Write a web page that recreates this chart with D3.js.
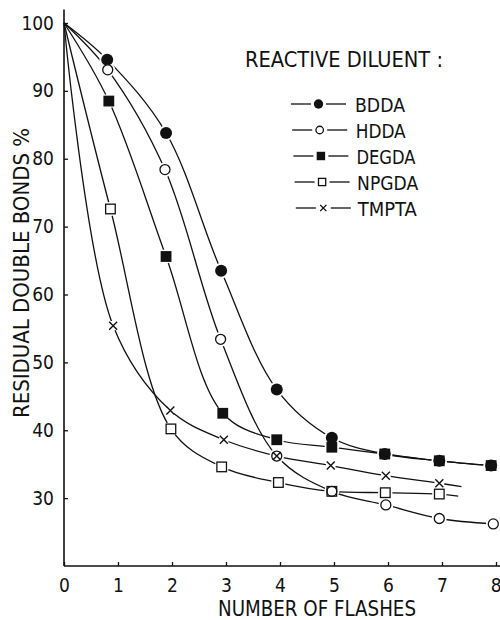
<!DOCTYPE html>
<html>
<head>
<meta charset="utf-8">
<script src="https://cdn.jsdelivr.net/npm/d3@7"></script>
<style>
  html, body { margin: 0; padding: 0; background: #fff; }
  svg { display: block; }
  text { font-family: "Liberation Sans Narrow", "DejaVu Sans Condensed", "Roboto Condensed", "Liberation Sans", sans-serif; fill: #111; }
</style>
</head>
<body>
<svg id="chart" width="500" height="620"></svg>
<script>
// ---------- data ----------
const seriesNames = ["BDDA", "HDDA", "DEGDA", "NPGDA", "TMPTA"];
const markerKinds = ["filledCircle", "openCircle", "filledSquare", "openSquare", "cross"];

// number of flashes (x) and residual double bonds % (y); first point is the common origin
const xBDDA  = [0, 0.80, 1.89, 2.91, 3.94, 4.96, 5.94, 6.95, 7.91];
const yBDDA  = [100, 94.6, 83.8, 63.5, 46.0, 38.9, 36.5, 35.5, 34.8];
const xHDDA  = [0, 0.81, 1.87, 2.90, 3.94, 4.96, 5.96, 6.95, 7.95];
const yHDDA  = [100, 93.1, 78.4, 53.4, 36.2, 31.0, 29.0, 27.0, 26.2];
const xDEGDA = [0, 0.83, 1.89, 2.94, 3.94, 4.96, 5.94, 6.95, 7.91];
const yDEGDA = [100, 88.5, 65.6, 42.5, 38.6, 37.5, 36.5, 35.5, 34.8];
const xNPGDA = [0, 0.86, 1.98, 2.92, 3.97, 4.96, 5.95, 6.95];
const yNPGDA = [100, 72.6, 40.2, 34.6, 32.3, 31.0, 30.8, 30.6];
const xTMPTA = [0, 0.91, 1.97, 2.96, 3.94, 4.94, 5.96, 6.95];
const yTMPTA = [100, 55.4, 42.9, 38.6, 36.2, 34.8, 33.3, 32.2];
// where the drawn curve stops beyond the last symbol (null = stops at last symbol)
const lineEndX = [null, null, null, 7.30, 7.36];
const lineEndY = [null, null, null, 30.3, 31.7];

const xTickValues = [0, 1, 2, 3, 4, 5, 6, 7, 8];
const yTickValues = [30, 40, 50, 60, 70, 80, 90, 100];

const xTitle = "NUMBER OF FLASHES";
const yTitle = "RESIDUAL  DOUBLE  BONDS  %";
const legendTitle = "REACTIVE  DILUENT :";

// ---------- build ----------
const xs = [xBDDA, xHDDA, xDEGDA, xNPGDA, xTMPTA];
const ys = [yBDDA, yHDDA, yDEGDA, yNPGDA, yTMPTA];
const series = seriesNames.map((name, i) => {
  const pts = xs[i].map((v, j) => ({ x: v, y: ys[i][j], marker: j > 0 }));
  if (lineEndX[i] !== null) pts.push({ x: lineEndX[i], y: lineEndY[i], marker: false });
  return { name, kind: markerKinds[i], pts };
});

const svg = d3.select("#chart");
const x = d3.scaleLinear().domain([0, 8]).range([64, 496]);
const y = d3.scaleLinear().domain([20, 100]).range([566, 23]);
const ink = "#111";

// axes
const gx = svg.append("g").attr("transform", `translate(0,${y(20)})`)
  .call(d3.axisBottom(x).tickValues(xTickValues).tickFormat(d3.format("d"))
    .tickSizeInner(-4).tickSizeOuter(0).tickPadding(13));
gx.select(".domain").remove();
gx.selectAll(".tick line").attr("stroke", ink).attr("stroke-width", 1.3);
gx.selectAll(".tick text").attr("font-size", 19).attr("fill", ink);
// keep the last label inside the picture
gx.selectAll(".tick text").filter(d => d === 8).attr("text-anchor", "end").attr("dx", 5);

const gy = svg.append("g").attr("transform", `translate(${x(0)},0)`)
  .call(d3.axisLeft(y).tickValues(yTickValues).tickFormat(d3.format("d"))
    .tickSizeInner(-4).tickSizeOuter(0).tickPadding(10));
gy.select(".domain").remove();
gy.selectAll(".tick line").attr("stroke", ink).attr("stroke-width", 1.3);
gy.selectAll(".tick text").attr("font-size", 19).attr("fill", ink);

svg.append("line").attr("x1", x(0)).attr("x2", x(0)).attr("y1", y(20)).attr("y2", y(102))
  .attr("stroke", ink).attr("stroke-width", 1.6);
svg.append("line").attr("x1", x(0)).attr("x2", x(8.08)).attr("y1", y(20)).attr("y2", y(20))
  .attr("stroke", ink).attr("stroke-width", 1.6);

// axis titles
svg.append("text").attr("x", 218).attr("y", 616).attr("font-size", 21)
  .attr("textLength", 198).attr("lengthAdjust", "spacingAndGlyphs").text(xTitle);
svg.append("text").attr("transform", "translate(29,418) rotate(-90)").attr("font-size", 22)
  .attr("textLength", 290).attr("lengthAdjust", "spacingAndGlyphs").text(yTitle);

// curves
const line = d3.line().x(d => x(d.x)).y(d => y(d.y)).curve(d3.curveCatmullRom.alpha(0.5));
svg.append("g").selectAll("path").data(series).join("path")
  .attr("d", d => line(d.pts)).attr("fill", "none").attr("stroke", ink).attr("stroke-width", 1.3);

// marker drawing helpers
const R = { filledCircle: 6, openCircle: 5.6, filledSquare: 5.4, openSquare: 5.4, cross: 4 };
function drawMarker(g, kind, cx, cy, s) {
  const r = R[kind] * s;
  if (kind === "filledCircle") g.append("circle").attr("cx", cx).attr("cy", cy).attr("r", r).attr("fill", ink);
  else if (kind === "openCircle") g.append("circle").attr("cx", cx).attr("cy", cy).attr("r", r - 0.6)
    .attr("fill", "#fff").attr("stroke", ink).attr("stroke-width", 1.3);
  else if (kind === "filledSquare") g.append("rect").attr("x", cx - r).attr("y", cy - r)
    .attr("width", 2 * r).attr("height", 2 * r).attr("fill", ink);
  else if (kind === "openSquare") g.append("rect").attr("x", cx - r + 0.6).attr("y", cy - r + 0.6)
    .attr("width", 2 * r - 1.2).attr("height", 2 * r - 1.2).attr("fill", "none").attr("stroke", ink).attr("stroke-width", 1.3);
  else if (kind === "cross") {
    g.append("path").attr("d", `M${cx - r},${cy - r}L${cx + r},${cy + r}M${cx - r},${cy + r}L${cx + r},${cy - r}`)
      .attr("stroke", ink).attr("stroke-width", 1.4).attr("fill", "none");
  }
}

// white halos make the small gaps of the curves at the symbols
const halos = svg.append("g");
series.forEach(s => s.pts.filter(p => p.marker).forEach(p => {
  halos.append("circle").attr("cx", x(p.x)).attr("cy", y(p.y))
    .attr("r", R[s.kind] + (s.kind === "cross" ? 1 : 1.8)).attr("fill", "#fff");
}));

// symbols (drawing order lets coinciding symbols show as in the figure)
const order = [2, 0, 1, 3, 4];
const marks = svg.append("g");
order.forEach(i => {
  const s = series[i];
  s.pts.filter(p => p.marker).forEach(p => drawMarker(marks, s.kind, x(p.x), y(p.y), 1));
});

// legend
const lg = svg.append("g");
lg.append("text").attr("x", 245).attr("y", 67).attr("font-size", 21)
  .attr("textLength", 198).attr("lengthAdjust", "spacingAndGlyphs").text(legendTitle);
const legendTextWidths = [50, 50, 59, 61, 59];
series.forEach((s, i) => {
  const cy = 104 + i * 26;
  const shift = i * 1.2;
  lg.append("line").attr("x1", 291 + shift).attr("x2", 311 + shift).attr("y1", cy).attr("y2", cy)
    .attr("stroke", ink).attr("stroke-width", 1.3);
  lg.append("line").attr("x1", 326 + shift).attr("x2", 346 + shift).attr("y1", cy).attr("y2", cy)
    .attr("stroke", ink).attr("stroke-width", 1.3);
  drawMarker(lg, s.kind, 318.5 + shift, cy, 0.78);
  lg.append("text").attr("x", 355 + i * 0.7).attr("y", cy + 7.5).attr("font-size", 20)
    .attr("textLength", legendTextWidths[i]).attr("lengthAdjust", "spacingAndGlyphs").text(s.name);
});
</script>
</body>
</html>
